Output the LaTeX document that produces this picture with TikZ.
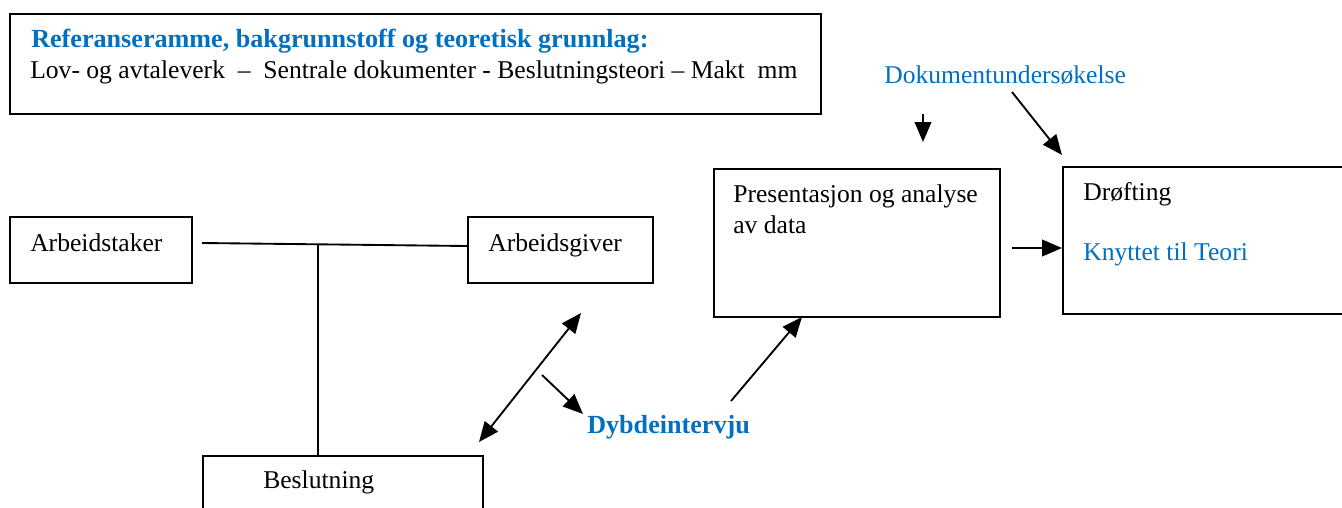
\documentclass[tikz,border=0pt]{standalone}
\usepackage{fontspec}
\setmainfont{Liberation Serif}
\usetikzlibrary{arrows.meta,calc}
\definecolor{wblue}{RGB}{0,112,192}
\begin{document}
\begin{tikzpicture}[x=0.75pt,y=-0.75pt,
  box/.style={draw,line width=1.5pt,inner sep=0pt,anchor=north west},
  txt/.style={anchor=base west,inner sep=0pt,font=\fontsize{19.2}{23}\selectfont},
  btxt/.style={txt,text=wblue},
  bold/.style={font=\fontsize{19.6}{23}\selectfont\bfseries},
  conn/.style={line width=1.4pt},
  tip/.tip={Triangle[length=15pt,width=12.5pt]},
  arr/.style={conn,-tip},
  darr/.style={conn,tip-tip},
]
\useasboundingbox (0,0) rectangle (1342,507);
\clip (0,0) rectangle (1342,507);
\fill[white] (0,0) rectangle (1342,507);
% boxes
\node[box,minimum width=811*0.75pt,minimum height=100*0.75pt] (ref) at (9,13) {};
\node[box,minimum width=182*0.75pt,minimum height=66*0.75pt] (ta) at (9,216) {};
\node[box,minimum width=185*0.75pt,minimum height=66*0.75pt] (tg) at (467,216) {};
\node[box,minimum width=280*0.75pt,minimum height=80*0.75pt] (bes) at (202,455) {};
\node[box,minimum width=286*0.75pt,minimum height=148*0.75pt] (pres) at (713,168) {};
\node[box,minimum width=320*0.75pt,minimum height=147*0.75pt] (dro) at (1062,166) {};
% texts
\node[btxt,bold] (reft) at (31,47) {Referanseramme, bakgrunnstoff og teoretisk grunnlag:};
\node[txt] (refl) at (30,78) {Lov- og avtaleverk\ \ –\ \ Sentrale dokumenter - Beslutningsteori – Makt\ \ mm};
\node[btxt] (dok) at (884,83) {Dokumentundersøkelse};
\node[txt] (tat) at (30,251) {Arbeidstaker};
\node[txt] (tgt) at (488,251) {Arbeidsgiver};
\node[txt] (best) at (263,488) {Beslutning};
\node[txt] (prest1) at (733,202) {Presentasjon og analyse};
\node[txt] (prest2) at (733,233) {av data};
\node[txt] (drot) at (1083,200) {Drøfting};
\node[btxt] (knt) at (1083,260) {Knyttet til Teori};
\node[btxt,bold] (dyb) at (587,433) {Dybdeintervju};
% connector coordinates
\coordinate (l1) at (202,243);
\coordinate (l2) at (467,246);
\coordinate (j) at (318,245);
\coordinate (d1) at (581,313);
\coordinate (d2) at (479,442);
\coordinate (s1) at (542,375);
\coordinate (s2) at (583,414);
\coordinate (p1) at (731,401);
\coordinate (p2) at (802,317);
\coordinate (r1) at (1012,248);
\coordinate (v1) at (923,114);
\coordinate (v2) at (923,142);
\coordinate (g1) at (1012,92);
\coordinate (g2) at (1062,155);
% connectors
\draw[conn] (l1) -- (l2);
\draw[conn] (j) -- (j |- bes.north);
\draw[darr] (d1) -- (d2);
\draw[arr] (s1) -- (s2);
\draw[arr] (p1) -- (p2);
\draw[arr] (r1) -- (r1 -| dro.west);
\draw[arr] (v1) -- (v2);
\draw[arr] (g1) -- (g2);
\end{tikzpicture}
\end{document}
